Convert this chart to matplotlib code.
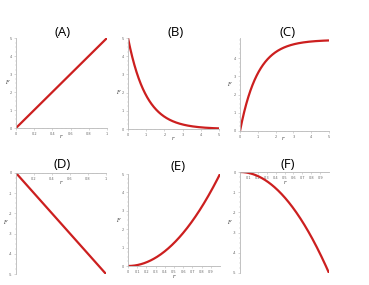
import numpy as np
import matplotlib
matplotlib.use("Agg")
import matplotlib.pyplot as plt
from matplotlib.ticker import AutoMinorLocator, FormatStrFormatter

W, H = 369, 285
fig = plt.figure(figsize=(W/100, H/100), dpi=100)

titles = ["(A)", "(B)", "(C)", "(D)", "(E)", "(F)"]
# x ranges and curves
x_ab = np.linspace(0, 1, 200)
x_exp = np.linspace(0, 5, 300)
curves = {
    "(A)": (x_ab, 5 * x_ab),
    "(B)": (x_exp, 5 * np.exp(-x_exp)),
    "(C)": (x_exp, 5 * (1 - np.exp(-x_exp))),
    "(D)": (x_ab, -5 * x_ab),
    "(E)": (x_ab, 5 * x_ab**2),
    "(F)": (x_ab, -5 * x_ab**2),
}
xticks = {
    "(A)": [0, 0.2, 0.4, 0.6, 0.8, 1],
    "(B)": [0, 1, 2, 3, 4, 5],
    "(C)": [0, 1, 2, 3, 4, 5],
    "(D)": [0.2, 0.4, 0.6, 0.8, 1],
    "(E)": [0, 0.1, 0.2, 0.3, 0.4, 0.5, 0.6, 0.7, 0.8, 0.9],
    "(F)": [0.1, 0.2, 0.3, 0.4, 0.5, 0.6, 0.7, 0.8, 0.9],
}
yticks = {
    "(A)": [0, 1, 2, 3, 4, 5],
    "(B)": [0, 1, 2, 3, 4, 5],
    "(C)": [0, 1, 2, 3, 4],
    "(D)": [0, -1, -2, -3, -4, -5],
    "(E)": [0, 1, 2, 3, 4, 5],
    "(F)": [0, -1, -2, -3, -4, -5],
}
xlims = {"(A)": (0, 1), "(B)": (0, 5), "(C)": (0, 5), "(D)": (0, 1), "(E)": (0, 1), "(F)": (0, 1)}
ylims = {"(A)": (0, 5), "(B)": (0, 5), "(C)": (0, 5.1), "(D)": (-5, 0), "(E)": (0, 5), "(F)": (-5, 0)}

# pixel boxes: left, right, top, bottom
boxes = {
    "(A)": (16, 107, 38, 128),
    "(B)": (128, 219, 38, 129),
    "(C)": (240, 329, 38, 131),
    "(D)": (16, 106, 173, 274),
    "(E)": (128, 220, 174, 266),
    "(F)": (240, 329, 172, 273),
}
title_pos = {"(A)": (63, 33), "(B)": (176, 33), "(C)": (288, 33),
             "(D)": (62, 164), "(E)": (178, 167), "(F)": (288, 164)}
ylab_pos = {"(A)": (7, 82), "(B)": (118, 92), "(C)": (229, 85),
            "(D)": (5, 222), "(E)": (118, 220), "(F)": (229, 222)}
xlab_pos = {"(A)": (61, 137), "(B)": (173, 138), "(C)": (283, 139),
            "(D)": (61, 183), "(E)": (174, 276), "(F)": (285, 182)}

red = "#cc1f1f"
gray = "#b8b8b8"

for t in titles:
    l, r, tp, b = boxes[t]
    ax = fig.add_axes([l / W, 1 - b / H, (r - l) / W, (b - tp) / H])
    x, y = curves[t]
    ax.plot(x, y, color=red, lw=1.6, solid_capstyle="butt")
    ax.set_xlim(*xlims[t])
    ax.set_ylim(*ylims[t])
    ax.set_xticks(xticks[t])
    ax.set_yticks(yticks[t])
    ax.xaxis.set_major_formatter(FormatStrFormatter("%g"))
    ax.yaxis.set_major_formatter(FormatStrFormatter("%g"))
    ax.xaxis.set_minor_locator(AutoMinorLocator(4))
    ax.yaxis.set_minor_locator(AutoMinorLocator(4))
    neg = t in ("(D)", "(F)")
    ax.spines["right"].set_visible(False)
    ax.spines["top"].set_visible(False)
    if neg:
        ax.spines["bottom"].set_position(("data", 0))
    for s in ax.spines.values():
        s.set_color(gray)
        s.set_linewidth(0.6)
    ax.tick_params(which="major", length=1.5, width=0.4, colors=gray,
                   labelsize=2.5, labelcolor="#666666", pad=1.5)
    ax.tick_params(which="minor", length=0.8, width=0.3, colors=gray)
    ax.set_facecolor("none")
    fig.text(title_pos[t][0] / W, 1 - title_pos[t][1] / H, t, ha="center", va="center",
             fontsize=9.5, family="Open Sans")
    fig.text(ylab_pos[t][0] / W, 1 - ylab_pos[t][1] / H, "F", ha="center", va="center",
             fontsize=3.5, style="italic", family="DejaVu Serif", color="#333333")
    fig.text(xlab_pos[t][0] / W, 1 - xlab_pos[t][1] / H, "r", ha="center", va="center",
             fontsize=3.5, style="italic", family="DejaVu Serif", color="#333333")

fig.savefig("out.png", dpi=100)
